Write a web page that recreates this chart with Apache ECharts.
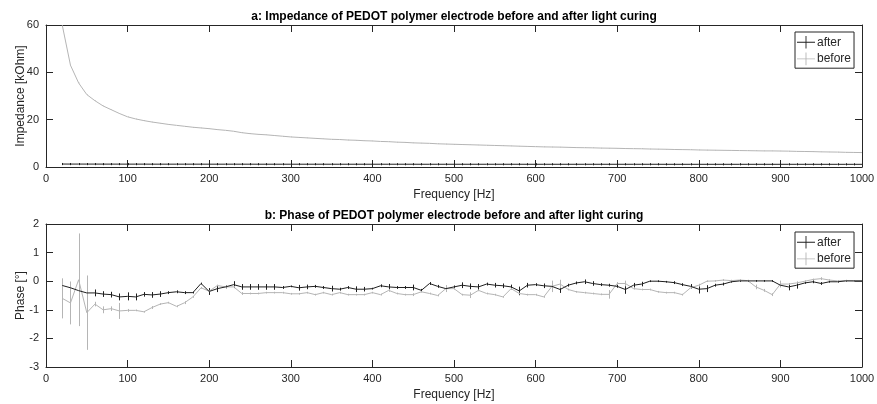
<!DOCTYPE html>
<html>
<head>
<meta charset="utf-8">
<script src="https://cdn.jsdelivr.net/npm/echarts@6/dist/echarts.min.js"></script>
<style>html,body{margin:0;padding:0;background:#fff;}#c{width:877px;height:404px;}</style>
</head>
<body>
<div id="c"></div>
<script>
const freq = [20,30,40,50,60,70,80,90,100,110,120,130,140,150,160,170,180,190,200,210,220,230,240,250,260,270,280,290,300,310,320,330,340,350,360,370,380,390,400,410,420,430,440,450,460,470,480,490,500,510,520,530,540,550,560,570,580,590,600,610,620,630,640,650,660,670,680,690,700,710,720,730,740,750,760,770,780,790,800,810,820,830,840,850,860,870,880,890,900,910,920,930,940,950,960,970,980,990,1000];
const xTicks = [0,100,200,300,400,500,600,700,800,900,1000];
const impTicks = [0,20,40,60];
const phaseTicks = [-3,-2,-1,0,1,2];

const impBefore = [59.8,43,35.5,30.6,28,25.8,24.2,22.6,21.2,20.3,19.6,19.0,18.5,18.0,17.6,17.2,16.8,16.5,16.2,15.8,15.5,15.1,14.5,14.1,13.8,13.6,13.3,13.0,12.7,12.5,12.3,12.1,11.9,11.7,11.6,11.4,11.3,11.1,11.0,10.8,10.7,10.5,10.4,10.2,10.1,10.0,9.8,9.7,9.6,9.5,9.4,9.3,9.2,9.1,9.0,8.9,8.8,8.7,8.6,8.5,8.45,8.4,8.3,8.2,8.15,8.1,8.0,7.95,7.9,7.8,7.75,7.7,7.6,7.55,7.5,7.4,7.35,7.3,7.2,7.15,7.1,7.05,7.0,6.95,6.9,6.85,6.8,6.8,6.75,6.7,6.6,6.55,6.5,6.4,6.35,6.3,6.2,6.15,6.1];
const impBeforeErr = [0.1,0.1,0.1,0.1,0.1,0.1,0.1,0.1,0.1,0.1,0.1,0.1,0.1,0.1,0.1,0.1,0.1,0.1,0.1,0.1,0.1,0.1,0.1,0.1,0.1,0.1,0.1,0.1,0.1,0.1,0.1,0.1,0.1,0.1,0.1,0.1,0.1,0.1,0.1,0.1,0.1,0.1,0.1,0.1,0.1,0.1,0.1,0.1,0.1,0.1,0.1,0.1,0.1,0.1,0.1,0.1,0.1,0.1,0.1,0.1,0.1,0.1,0.1,0.1,0.1,0.1,0.1,0.1,0.1,0.1,0.1,0.1,0.1,0.1,0.1,0.1,0.1,0.1,0.1,0.1,0.1,0.1,0.1,0.1,0.1,0.1,0.1,0.1,0.1,0.1,0.1,0.1,0.1,0.1,0.1,0.1,0.1,0.1,0.1];
const impAfter = [1.25,1.24,1.24,1.23,1.23,1.22,1.22,1.22,1.21,1.21,1.21,1.2,1.2,1.2,1.2,1.2,1.2,1.2,1.19,1.19,1.19,1.19,1.19,1.19,1.18,1.18,1.18,1.18,1.18,1.18,1.18,1.18,1.18,1.17,1.17,1.17,1.17,1.17,1.17,1.17,1.17,1.17,1.17,1.17,1.16,1.16,1.16,1.16,1.16,1.16,1.16,1.16,1.16,1.16,1.16,1.16,1.16,1.15,1.15,1.15,1.15,1.15,1.15,1.15,1.15,1.15,1.15,1.15,1.15,1.15,1.15,1.15,1.15,1.15,1.14,1.14,1.14,1.14,1.14,1.14,1.14,1.14,1.14,1.14,1.14,1.14,1.14,1.14,1.14,1.14,1.14,1.14,1.14,1.13,1.13,1.13,1.13,1.13,1.13];
const impAfterErr = [0.45,0.45,0.45,0.45,0.45,0.45,0.45,0.45,0.45,0.45,0.45,0.45,0.45,0.45,0.45,0.45,0.45,0.45,0.45,0.45,0.45,0.45,0.45,0.45,0.45,0.45,0.45,0.45,0.45,0.45,0.45,0.45,0.45,0.45,0.45,0.45,0.45,0.45,0.45,0.45,0.45,0.45,0.45,0.45,0.45,0.45,0.45,0.45,0.45,0.45,0.45,0.45,0.45,0.45,0.45,0.45,0.45,0.45,0.45,0.45,0.45,0.45,0.45,0.45,0.45,0.45,0.45,0.45,0.45,0.45,0.45,0.45,0.45,0.45,0.45,0.45,0.45,0.45,0.45,0.45,0.45,0.45,0.45,0.45,0.45,0.45,0.45,0.45,0.45,0.45,0.45,0.45,0.45,0.45,0.45,0.45,0.45,0.45,0.45];

const phaseAfter = [-0.15,-0.23,-0.33,-0.41,-0.41,-0.45,-0.47,-0.55,-0.53,-0.55,-0.46,-0.48,-0.45,-0.40,-0.37,-0.40,-0.40,-0.08,-0.36,-0.26,-0.20,-0.12,-0.20,-0.20,-0.20,-0.20,-0.20,-0.22,-0.18,-0.23,-0.20,-0.18,-0.22,-0.26,-0.28,-0.22,-0.28,-0.28,-0.26,-0.16,-0.20,-0.22,-0.22,-0.22,-0.32,-0.08,-0.18,-0.26,-0.20,-0.14,-0.18,-0.20,-0.10,-0.14,-0.16,-0.20,-0.34,-0.14,-0.12,-0.16,-0.18,-0.29,-0.14,-0.06,-0.02,-0.08,-0.12,-0.14,-0.18,-0.29,-0.14,-0.10,0.00,0.00,-0.02,-0.05,-0.12,-0.18,-0.28,-0.26,-0.14,-0.10,-0.02,0.01,0.01,0.01,0.01,0.01,-0.14,-0.20,-0.14,-0.06,-0.02,-0.08,-0.02,-0.02,0.01,0.01,0.01];
const phaseAfterErr = [0.03,0.03,0.03,0.06,0.12,0.1,0.1,0.12,0.14,0.12,0.08,0.1,0.1,0.05,0.05,0.05,0.03,0.03,0.12,0.12,0.05,0.12,0.1,0.1,0.1,0.1,0.1,0.05,0.03,0.1,0.08,0.05,0.05,0.1,0.05,0.05,0.1,0.08,0.03,0.05,0.1,0.05,0.05,0.1,0.05,0.05,0.05,0.1,0.05,0.1,0.1,0.1,0.05,0.08,0.08,0.08,0.15,0.08,0.05,0.08,0.08,0.12,0.05,0.05,0.08,0.08,0.05,0.05,0.05,0.15,0.08,0.08,0.03,0.03,0.03,0.05,0.05,0.08,0.15,0.12,0.05,0.05,0.03,0.03,0.03,0.03,0.03,0.03,0.05,0.12,0.12,0.03,0.05,0.05,0.03,0.03,0.03,0.03,0.03];
const phaseBefore = [-0.60,-0.76,0.05,-1.10,-0.80,-1.00,-0.96,-1.04,-1.02,-1.02,-1.07,-0.92,-0.80,-0.75,-0.88,-0.75,-0.55,-0.23,-0.35,-0.15,-0.20,-0.20,-0.43,-0.43,-0.43,-0.40,-0.40,-0.40,-0.44,-0.44,-0.40,-0.47,-0.40,-0.47,-0.40,-0.47,-0.47,-0.47,-0.40,-0.47,-0.32,-0.43,-0.47,-0.47,-0.37,-0.43,-0.50,-0.26,-0.26,-0.47,-0.49,-0.32,-0.43,-0.47,-0.55,-0.26,-0.43,-0.47,-0.47,-0.55,-0.18,-0.10,-0.29,-0.37,-0.40,-0.43,-0.46,-0.46,-0.08,-0.08,-0.26,-0.29,-0.29,-0.37,-0.40,-0.40,-0.47,-0.23,-0.14,0.00,0.01,0.04,0.02,0.04,0.02,-0.20,-0.32,-0.47,-0.10,-0.10,-0.06,0.00,0.06,0.09,0.04,0.01,0.02,0.01,0.01];
const phaseBeforeErr = [0.7,0.75,1.62,1.3,0.08,0.12,0.08,0.28,0.05,0.03,0.03,0.05,0.03,0.03,0.03,0.05,0.03,0.03,0.03,0.03,0.03,0.03,0.05,0.03,0.03,0.03,0.03,0.03,0.03,0.03,0.03,0.03,0.03,0.03,0.03,0.03,0.03,0.03,0.03,0.03,0.05,0.03,0.03,0.05,0.03,0.03,0.03,0.12,0.03,0.03,0.1,0.03,0.03,0.03,0.03,0.03,0.03,0.03,0.03,0.03,0.2,0.15,0.03,0.03,0.03,0.03,0.03,0.15,0.05,0.1,0.03,0.03,0.03,0.03,0.03,0.03,0.03,0.03,0.05,0.03,0.03,0.03,0.03,0.03,0.03,0.08,0.05,0.05,0.12,0.03,0.03,0.03,0.03,0.05,0.03,0.03,0.03,0.03,0.03];

const FONT = '"Liberation Sans", Arial, Helvetica, sans-serif';
const AX = '#262626';
const C_AFTER = '#1f1f1f';
const C_BEFORE = '#b5b5b5';

function pairs(vals){ return freq.map((f,i)=>[f, vals[i]]); }
function triples(vals, errs){ return freq.map((f,i)=>[f, vals[i], errs[i]]); }

function errSeries(name, gi, vals, errs, color){
  return {
    name: name, type: 'custom', xAxisIndex: gi*2, yAxisIndex: gi*2,
    clip: true, silent: true, z: 3,
    data: triples(vals, errs),
    encode: {x: 0, y: 1},
    renderItem: function(params, api){
      const x = api.value(0), v = api.value(1), e = api.value(2);
      const p1 = api.coord([x, v + e]);
      const p2 = api.coord([x, v - e]);
      return {type: 'line', shape: {x1: Math.round(p1[0])+0.5, y1: p1[1], x2: Math.round(p2[0])+0.5, y2: p2[1]},
              style: {stroke: color, lineWidth: 1}};
    }
  };
}

function xAxes(gi){
  const base = {
    type: 'value', gridIndex: gi, min: xTicks[0], max: xTicks[xTicks.length-1], interval: 100,
    axisLine: {show: true, onZero: false, lineStyle: {color: AX, width: 1}},
    axisTick: {show: true, inside: true, length: 7, lineStyle: {color: AX}},
    splitLine: {show: false}
  };
  return [
    Object.assign({}, base, {position: 'bottom',
      name: 'Frequency [Hz]', nameLocation: 'middle', nameGap: 22, nameMoveOverlap: false,
      nameTextStyle: {fontFamily: FONT, fontSize: 12, color: AX, verticalAlign: 'top'},
      axisLabel: {show: true, margin: 6, fontFamily: FONT, fontSize: 11, color: AX, formatter: v => String(v)}}),
    Object.assign({}, base, {position: 'top', axisLabel: {show: false}})
  ];
}
function yAxes(gi, min, max, interval, name){
  const base = {
    type: 'value', gridIndex: gi, min: min, max: max, interval: interval,
    axisLine: {show: true, onZero: false, lineStyle: {color: AX, width: 1}},
    axisTick: {show: true, inside: true, length: 7, lineStyle: {color: AX}},
    splitLine: {show: false}
  };
  return [
    Object.assign({}, base, {position: 'left',
      name: name, nameLocation: 'middle', nameGap: 19, nameMoveOverlap: false,
      nameTextStyle: {fontFamily: FONT, fontSize: 12, color: AX},
      axisLabel: {show: true, margin: 7, fontFamily: FONT, fontSize: 11, color: AX}}),
    Object.assign({}, base, {position: 'right', axisLabel: {show: false}})
  ];
}

const legendIcon = 'path://M0,6.5h20v1h-20z M9.5,0h1v14h-1z';
function legend(top){
  return {
    left: 795, top: top, orient: 'vertical',
    data: ['after', 'before'],
    icon: legendIcon, itemWidth: 18, itemHeight: 14, itemGap: 4,
    padding: [4, 3, 3, 2],
    borderColor: AX, borderWidth: 1, backgroundColor: '#fff',
    textStyle: {fontFamily: FONT, fontSize: 12, color: AX, padding: [0, 0, 0, -3]},
    selectedMode: false
  };
}

const chart = echarts.init(document.getElementById('c'), null, {renderer: 'canvas'});
chart.setOption({
  animation: false,
  backgroundColor: '#fff',
  grid: [
    {left: 46, top: 25, width: 816, height: 142, show: false, outerBoundsMode: 'none', containLabel: false},
    {left: 46, top: 224, width: 816, height: 143, show: false, outerBoundsMode: 'none', containLabel: false}
  ],
  xAxis: xAxes(0).concat(xAxes(1)),
  yAxis: yAxes(0, impTicks[0], impTicks[impTicks.length-1], 20, 'Impedance [kOhm]')
    .concat(yAxes(1, phaseTicks[0], phaseTicks[phaseTicks.length-1], 1, 'Phase [°]')),
  legend: [legend(32), legend(232)],
  graphic: [
    {type: 'text', x: 454, y: 17, style: {text: 'a: Impedance of PEDOT polymer electrode before and after light curing',
      fontFamily: FONT, fontSize: 12, fontWeight: 'bold', fill: '#000', align: 'center', verticalAlign: 'middle'}},
    {type: 'text', x: 454, y: 216, style: {text: 'b: Phase of PEDOT polymer electrode before and after light curing',
      fontFamily: FONT, fontSize: 12, fontWeight: 'bold', fill: '#000', align: 'center', verticalAlign: 'middle'}}
  ],
  series: [
    {name: 'after', type: 'line', xAxisIndex: 0, yAxisIndex: 0, data: pairs(impAfter), showSymbol: false,
      color: C_AFTER, lineStyle: {color: C_AFTER, width: 1}, z: 4},
    errSeries('after-err-a', 0, impAfter, impAfterErr, C_AFTER),
    {name: 'before', type: 'line', xAxisIndex: 0, yAxisIndex: 0, data: pairs(impBefore), showSymbol: false,
      color: C_BEFORE, lineStyle: {color: C_BEFORE, width: 1}, z: 2},
    errSeries('before-err-a', 0, impBefore, impBeforeErr, C_BEFORE),
    {name: 'after', type: 'line', xAxisIndex: 2, yAxisIndex: 2, data: pairs(phaseAfter), showSymbol: false,
      color: C_AFTER, lineStyle: {color: C_AFTER, width: 1}, z: 4},
    errSeries('after-err-b', 1, phaseAfter, phaseAfterErr, C_AFTER),
    {name: 'before', type: 'line', xAxisIndex: 2, yAxisIndex: 2, data: pairs(phaseBefore), showSymbol: false,
      color: C_BEFORE, lineStyle: {color: C_BEFORE, width: 1}, z: 2},
    errSeries('before-err-b', 1, phaseBefore, phaseBeforeErr, C_BEFORE)
  ]
});
</script>
</body>
</html>
